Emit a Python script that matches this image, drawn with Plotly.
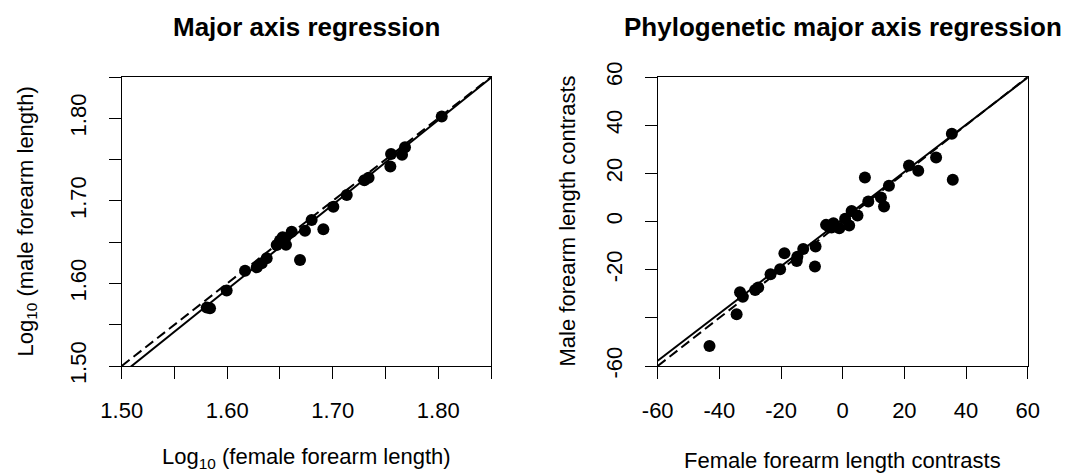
import plotly.graph_objects as go

# ---- data: left panel (log10 forearm lengths) ----
female_log = [1.5806, 1.5837, 1.5995, 1.6169, 1.6280, 1.6327, 1.6374, 1.6469, 1.6500,
              1.6525, 1.6548, 1.6557, 1.6611, 1.6690, 1.6737, 1.6800, 1.6911, 1.7006,
              1.7133, 1.7300, 1.7340, 1.7546, 1.7553, 1.7657, 1.7685, 1.8033]
male_log = [1.5707, 1.5699, 1.5913, 1.6154, 1.6195, 1.6244, 1.6304, 1.6465, 1.6520,
            1.6560, 1.6547, 1.6467, 1.6627, 1.6284, 1.6639, 1.6768, 1.6655, 1.6930,
            1.7071, 1.7250, 1.7280, 1.7417, 1.7567, 1.7559, 1.7648, 1.8023]

# ---- data: right panel (phylogenetic contrasts) ----
female_contrast = [35.4, 35.7, 30.3, 21.5, 24.5, 15.0, 12.4, 13.4, 7.2, 8.3, 4.8, 2.9,
                   2.1, 0.8, -1.1, -3.0, -3.6, -5.4, -4.3, -8.8, -9.0, -12.8, -14.7,
                   -14.9, -18.9, -20.3, -23.4, -27.4, -28.4, -33.3, -32.4, -34.4, -43.2]
male_contrast = [36.4, 17.3, 26.6, 23.3, 21.1, 14.8, 10.0, 6.2, 18.3, 8.3, 2.5, 4.4,
                 -1.7, 1.1, -2.8, -0.7, -2.5, -1.4, -2.4, -10.4, -18.7, -11.4, -14.6,
                 -16.4, -13.2, -19.8, -21.9, -27.4, -28.4, -29.4, -31.2, -38.5, -51.7]

# ---- fitted lines (slope, intercept) and 1:1 reference ----
ma_fit = [1.025, -0.0472]
pma_fit = [0.98, 1.0]
one_to_one = [1.0, 0.0]

left_range = [1.50, 1.85]
right_range = [-60, 60]
left_ticks = [1.50, 1.55, 1.60, 1.65, 1.70, 1.75, 1.80, 1.85]
left_ticktext = ["1.50", "", "1.60", "", "1.70", "", "1.80", ""]
right_ticks = [-60, -40, -20, 0, 20, 40, 60]
right_xticktext = ["-60", "-40", "-20", "0", "20", "40", "60"]
right_yticktext = ["-60", "", "-20", "0", "20", "40", "60"]

FONT = "Liberation Sans, Arial, sans-serif"
W, H = 1079, 473

fig = go.Figure()

def line_trace(fit, rng, xa, ya, dash):
    xs = [rng[0], rng[1]]
    ys = [fit[0] * v + fit[1] for v in xs]
    return go.Scatter(x=xs, y=ys, mode="lines", xaxis=xa, yaxis=ya,
                      line=dict(color="black", width=2, dash=dash),
                      showlegend=False, hoverinfo="skip")

fig.add_trace(line_trace(one_to_one, left_range, "x", "y", "10px,5px"))
fig.add_trace(line_trace(ma_fit, left_range, "x", "y", "solid"))
fig.add_trace(go.Scatter(x=female_log, y=male_log, mode="markers", xaxis="x", yaxis="y",
                         marker=dict(color="black", size=12), showlegend=False))

fig.add_trace(line_trace(one_to_one, right_range, "x2", "y2", "10px,5px"))
fig.add_trace(line_trace(pma_fit, right_range, "x2", "y2", "solid"))
fig.add_trace(go.Scatter(x=female_contrast, y=male_contrast, mode="markers", xaxis="x2", yaxis="y2",
                         marker=dict(color="black", size=12), showlegend=False))

ydom = [1 - 366 / H, 1 - 77 / H]
ldom = [121.7 / W, 491 / W]
rdom = [657.7 / W, 1027.7 / W]

common = dict(showgrid=False, zeroline=False, showline=True, mirror=True,
              linecolor="black", linewidth=1.3, ticks="outside", ticklen=12,
              tickwidth=1.3, tickcolor="black", automargin=False,
              tickfont=dict(family=FONT, size=22, color="black"))

fig.update_layout(
    template="none",
    width=W, height=H, autosize=False,
    margin=dict(l=0, r=0, t=0, b=0),
    paper_bgcolor="white", plot_bgcolor="white",
    font=dict(family=FONT, color="black"),
    xaxis=dict(domain=ldom, range=left_range, tickvals=left_ticks, ticktext=left_ticktext,
               anchor="y", ticklabelstandoff=12, **common),
    yaxis=dict(domain=ydom, range=left_range, tickvals=left_ticks, ticktext=left_ticktext,
               anchor="x", tickangle=-90, ticklabelstandoff=14, **common),
    xaxis2=dict(domain=rdom, range=right_range, tickvals=right_ticks, ticktext=right_xticktext,
                anchor="y2", ticklabelstandoff=12, **common),
    yaxis2=dict(domain=ydom, range=right_range, tickvals=right_ticks, ticktext=right_yticktext,
                anchor="x2", tickangle=-90, ticklabelstandoff=14, **common),
)

def ann(text, x, y, size=22, angle=0, bold=False):
    fig.add_annotation(text=("<b>%s</b>" % text) if bold else text,
                       x=x / W, y=1 - y / H, xref="paper", yref="paper",
                       xanchor="center", yanchor="middle", showarrow=False,
                       textangle=angle, font=dict(family=FONT, size=size, color="black"))

ann("Major axis regression", (121.7 + 491) / 2, 27, size=26, bold=True)
ann("Phylogenetic major axis regression", (657.7 + 1027.7) / 2, 27, size=26, bold=True)
ann("Log<sub>10</sub> (female forearm length)", (121.7 + 491) / 2, 458)
ann("Log<sub>10</sub> (male forearm length)", 26, (77 + 366) / 2, angle=-90)
ann("Female forearm length contrasts", (657.7 + 1027.7) / 2, 460)
ann("Male forearm length contrasts", 567, (77 + 366) / 2, angle=-90)

fig.write_html("out.html", config={"displayModeBar": False},
               post_script="document.body.style.margin='0';document.body.style.overflow='hidden';")
